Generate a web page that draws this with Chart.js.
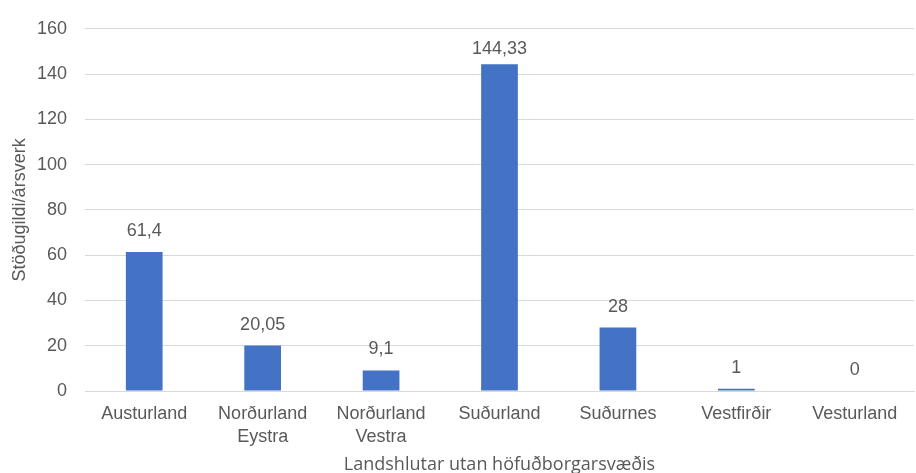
<!DOCTYPE html>
<html>
<head>
<meta charset="utf-8">
<script src="https://cdn.jsdelivr.net/npm/chart.js@4/dist/chart.umd.min.js"></script>
<style>
  html, body { margin: 0; padding: 0; background: #fff; }
  #wrap { width: 916px; height: 473px; }
</style>
</head>
<body>
<div id="wrap"><canvas id="stodugildiChart"></canvas></div>
<script>
const regions = [
  ["Austurland"],
  ["Norðurland", "Eystra"],
  ["Norðurland", "Vestra"],
  ["Suðurland"],
  ["Suðurnes"],
  ["Vestfirðir"],
  ["Vesturland"]
];
const stodugildi = [61.4, 20.05, 9.1, 144.33, 28, 1, 0];
const yTicks = [0, 20, 40, 60, 80, 100, 120, 140, 160];

const textColor = '#595959';
const barColor = '#4472C4';
const arial = '"Liberation Sans", Arial, sans-serif';

// labels above each bar, Icelandic decimal comma
// (kept inside the plot area like Excel does for the tall bar)
const valueLabels = {
  id: 'valueLabels',
  afterDatasetsDraw(chart) {
    const ctx = chart.ctx;
    const meta = chart.getDatasetMeta(0);
    const minY = chart.chartArea.top + 29;
    ctx.save();
    ctx.font = '18px ' + arial;
    ctx.fillStyle = textColor;
    ctx.textAlign = 'center';
    ctx.textBaseline = 'bottom';
    meta.data.forEach((bar, i) => {
      const txt = String(stodugildi[i]).replace('.', ',');
      ctx.fillText(txt, bar.x, Math.max(bar.y - 12, minY));
    });
    ctx.restore();
  }
};

const ctx = document.getElementById('stodugildiChart');

const chart = new Chart(ctx, {
  type: 'bar',
  data: {
    labels: regions,
    datasets: [{
      data: stodugildi,
      backgroundColor: barColor,
      borderWidth: 0,
      categoryPercentage: 1,
      barPercentage: 0.31
    }]
  },
  plugins: [valueLabels],
  options: {
    responsive: true,
    maintainAspectRatio: false,
    animation: false,
    layout: { padding: { top: 10, right: 2, left: 9, bottom: 0 } },
    plugins: {
      legend: { display: false },
      tooltip: { enabled: false }
    },
    scales: {
      x: {
        afterFit(scale) { scale.height = 82; },
        grid: { display: false },
        border: { color: '#d9d9d9', width: 1 },
        ticks: {
          color: textColor,
          font: { family: arial, size: 18, lineHeight: 1.25 },
          padding: 4,
          maxRotation: 0
        },
        title: {
          display: true,
          text: 'Landshlutar utan höfuðborgarsvæðis',
          color: textColor,
          font: { family: '"Open Sans", sans-serif', size: 18 },
          padding: { top: 0, bottom: -3 }
        }
      },
      y: {
        min: 0,
        max: 160,
        afterBuildTicks(scale) {
          scale.ticks = yTicks.map(v => ({ value: v }));
        },
        afterFit(scale) { scale.width = 76; },
        grid: { color: '#d9d9d9', drawTicks: false },
        border: { display: false },
        ticks: {
          color: textColor,
          font: { family: arial, size: 18 },
          padding: 18
        },
        title: {
          display: true,
          text: 'Stöðugildi/ársverk',
          color: textColor,
          font: { family: arial, size: 18 },
          padding: { top: 0, bottom: 0 }
        }
      }
    }
  }
});
</script>
</body>
</html>
